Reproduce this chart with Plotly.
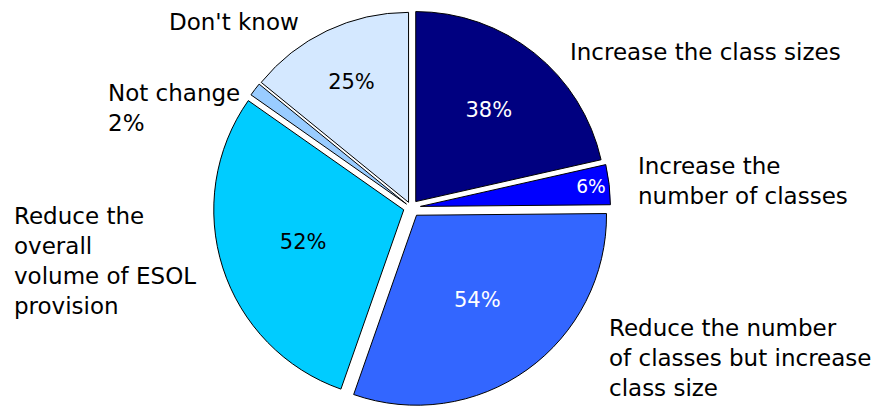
import plotly.graph_objects as go

categories = ["Increase the class sizes", "Increase the number of classes",
              "Reduce the number of classes but increase class size",
              "Reduce the overall volume of ESOL provision", "Not change", "Don't know"]
values = [38, 6, 54, 52, 2, 25]
slice_text = ["38%", "6%", "54%", "52%", "", "25%"]
colors = ["#000080", "#0000FF", "#3366FF", "#00CCFF", "#99CCFF", "#D4E8FF"]
text_colors = ["white", "white", "white", "black", "black", "black"]
pulls = [0.04, 0.05, 0.05, 0.04, 0.03, 0.03]

outer_labels = ["Increase the class sizes", "Increase the<br>number of classes",
                "Reduce the number<br>of classes but increase<br>class size",
                "Reduce the<br>overall<br>volume of ESOL<br>provision",
                "Not change<br>2%", "Don't know"]
# positions in window pixels (left edge, vertical middle)
label_pos = [(568, 52), (636, 181), (607, 358), (12, 261), (106, 108), (167, 22)]

FONT = "DejaVu Sans"
OFF = 8                      # page body margin
W, H = 880 - OFF, 407 - OFF  # figure size that fits the window

# pie centre (window px) and outer radius
R = H / 2
cx = 411 - OFF
dom_x = [(cx - R) / W, (cx + R) / W]
dom_y = [0.0, 1.0]

fig = go.Figure(go.Pie(
    labels=categories, values=values, text=slice_text, textinfo="text",
    marker=dict(colors=colors, line=dict(color="black", width=1)),
    textfont=dict(family=FONT, size=21, color=text_colors),
    textposition="inside", insidetextorientation="horizontal",
    sort=False, direction="clockwise", rotation=0, pull=pulls,
    domain=dict(x=dom_x, y=dom_y),
    showlegend=False, hoverinfo="label+value",
))

for txt, (px, py) in zip(outer_labels, label_pos):
    fig.add_annotation(x=(px - OFF) / W, y=1 - (py - OFF) / H, xref="paper", yref="paper",
                       text=txt, showarrow=False, xanchor="left", yanchor="middle",
                       align="left", font=dict(family=FONT, size=23, color="black"))

fig.update_layout(width=W, height=H, margin=dict(l=0, r=0, t=0, b=0),
                  paper_bgcolor="white", plot_bgcolor="white")
fig.write_html("out.html")
